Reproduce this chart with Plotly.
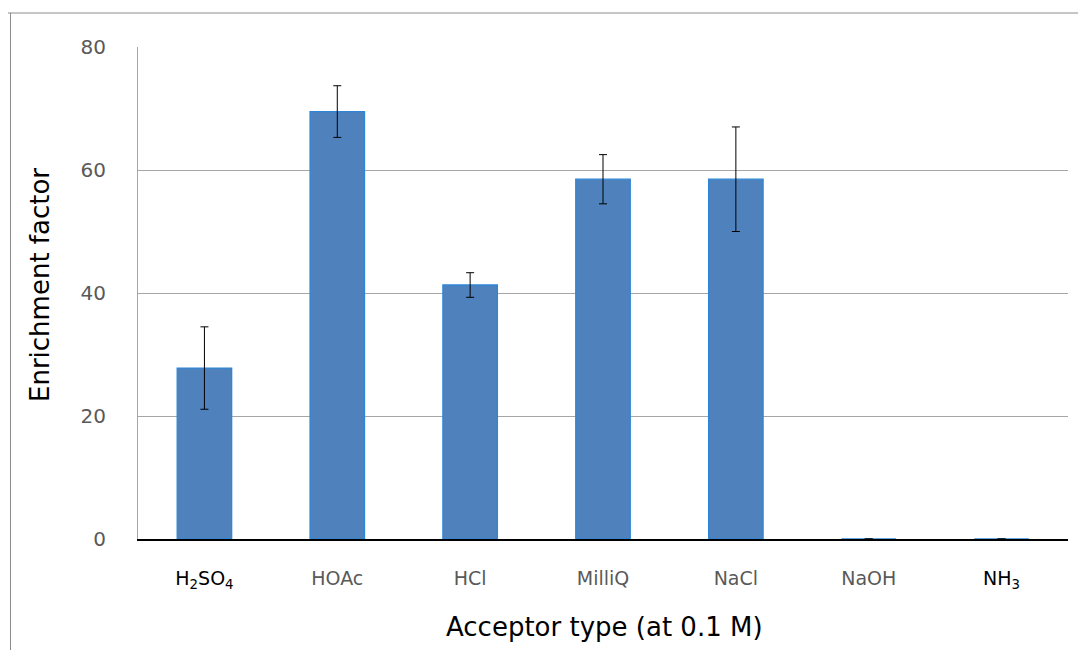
import plotly.graph_objects as go

categories = ["H<sub>2</sub>SO<sub>4</sub>", "HOAc", "HCl", "MilliQ", "NaCl", "NaOH", "NH<sub>3</sub>"]
cat_keys = ["H2SO4", "HOAc", "HCl", "MilliQ", "NaCl", "NaOH", "NH3"]
values = [27.8, 69.5, 41.3, 58.5, 58.5, 0, 0]
errors = [6.7, 4.2, 2.0, 4.0, 8.5, 0, 0]
label_colors = ["#000000", "#595959", "#595959", "#595959", "#595959", "#595959", "#000000"]
y_ticks = [0, 20, 40, 60, 80]
x_title = "Acceptor type (at 0.1 M)"
y_title = "Enrichment factor"

ticktext = [f"<span style='color:{c}'>{t}</span>" for t, c in zip(categories, label_colors)]

fig = go.Figure()
fig.add_trace(go.Bar(
    x=cat_keys, y=values, width=0.41,
    marker=dict(color="#4F81BD", line=dict(color="#2E86D6", width=1.3)),
    error_y=dict(type="data", array=errors, visible=True, color="#000000", thickness=1, width=4),
))

# page body has an 8px margin; figure coords = screen coords - 8
L, R, T, B = 130, 26, 39, 119
W, H = 1086, 650
pw, ph = W - L - R, H - T - B
fx = (2.5 - L) / pw
fy = 1 + (T - 5) / ph

fig.update_layout(
    width=W, height=H,
    margin=dict(l=L, r=R, t=T, b=B),
    plot_bgcolor="white", paper_bgcolor="white",
    showlegend=False,
    font=dict(family="DejaVu Sans", color="#595959"),
    xaxis=dict(
        tickmode="array", tickvals=cat_keys, ticktext=ticktext,
        tickfont=dict(size=19), ticks="", showgrid=False,
        showline=True, linecolor="#000000", linewidth=1.5,
        ticklabelstandoff=21,
    ),
    yaxis=dict(
        range=[0, 80], tickvals=y_ticks, tickfont=dict(size=20), ticks="",
        showgrid=True, gridcolor="#A6A6A6", gridwidth=1,
        showline=True, linecolor="#A6A6A6", linewidth=1, zeroline=False,
        ticklabelstandoff=27,
    ),
    annotations=[
        dict(text=x_title, xref="paper", yref="paper", x=(596 - L) / pw, y=-(619 - (H - B)) / ph,
             xanchor="center", yanchor="middle", showarrow=False,
             font=dict(size=26, color="#000000")),
        dict(text=y_title, xref="paper", yref="paper", x=(32 - L) / pw, y=1 - (277 - T) / ph,
             xanchor="center", yanchor="middle", showarrow=False, textangle=-90,
             font=dict(size=26, color="#000000")),
    ],
    shapes=[
        dict(type="line", xref="paper", yref="paper", x0=fx - 0.006, x1=1 + R / pw + 0.01, y0=fy, y1=fy,
             line=dict(color="#8C8C8C", width=1)),
        dict(type="line", xref="paper", yref="paper", x0=fx, x1=fx, y0=fy, y1=-B / ph - 0.01,
             line=dict(color="#8C8C8C", width=1)),
    ],
)

fig.write_html("out.html")
